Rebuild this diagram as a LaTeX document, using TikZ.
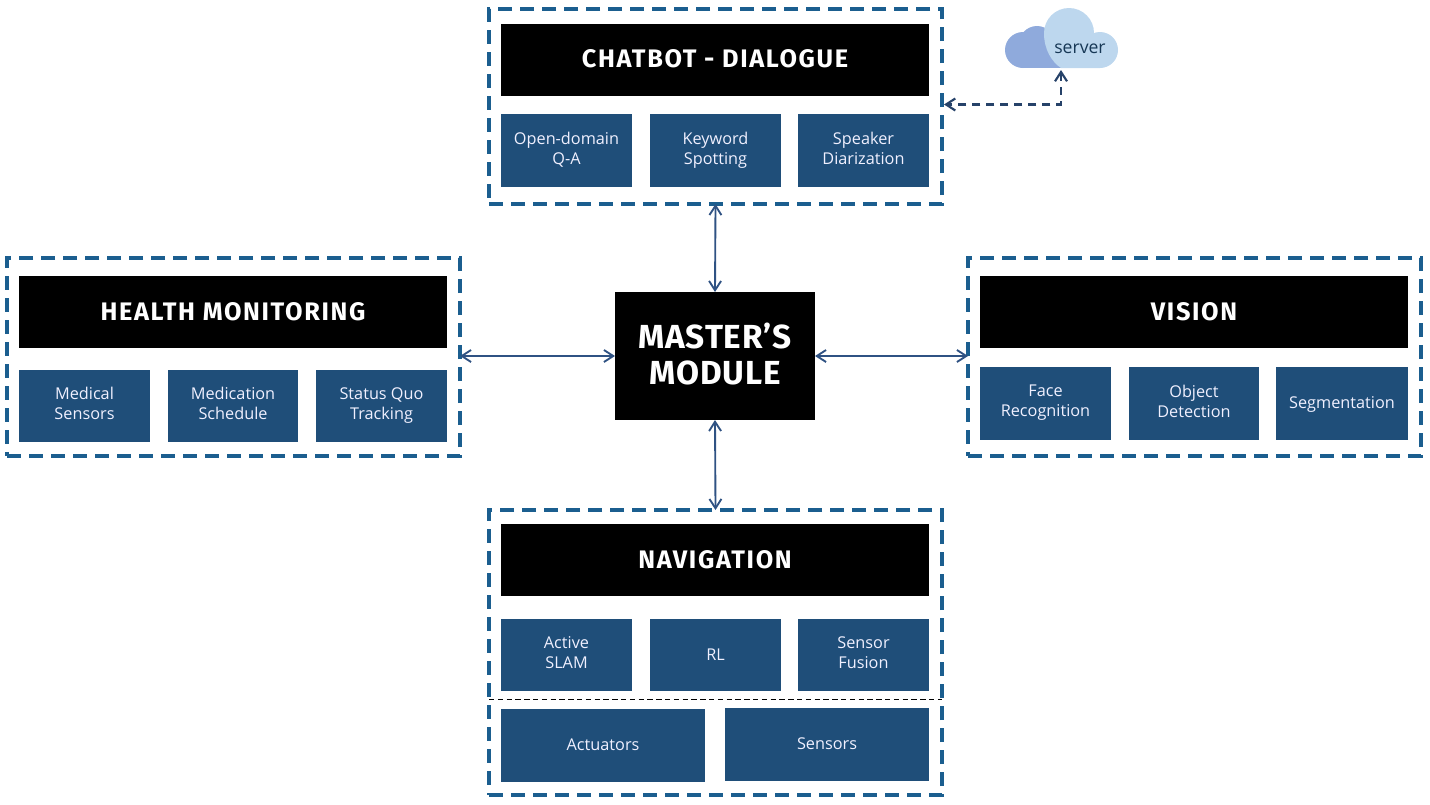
\documentclass[tikz,border=0pt]{standalone}
\usepackage{fontspec}
\setmainfont{Open Sans}
\newfontfamily\headfont[LetterSpace=6.5]{Fira Sans}
\newfontfamily\masterfont[LetterSpace=2.6]{Fira Sans}
\usetikzlibrary{arrows.meta}
\definecolor{blk}{HTML}{1F4E79}
\definecolor{dashc}{HTML}{1B5E8F}
\definecolor{arr}{HTML}{2F5283}
\definecolor{cldA}{HTML}{8FAADC}
\definecolor{cldB}{HTML}{BDD7EE}
\newcommand{\bx}[7][]{%
  \pgfmathsetmacro{\bw}{#5-#3}\pgfmathsetmacro{\bh}{#6-#4}%
  \pgfmathsetmacro{\cx}{(#3+#5)/2}\pgfmathsetmacro{\cy}{(#4+#6)/2}%
  \node[#1,minimum width=\bw*0.75pt,minimum height=\bh*0.75pt] (#2) at (\cx,\cy) {#7};}
\tikzset{
  group/.style={draw=dashc,line width=2.4pt,dash pattern=on 10.5pt off 6pt,inner sep=0pt,outer sep=0pt},
  head/.style={fill=black,text=white,font=\headfont\bfseries\fontsize{19}{22}\selectfont,text depth=1.5pt,inner sep=0pt,outer sep=0pt},
  master/.style={fill=black,text=white,font=\masterfont\bfseries\fontsize{25}{27}\selectfont,align=center,text depth=3.5pt,inner sep=0pt,outer sep=0pt},
  sub/.style={fill=blk,text=white!94!blue,font=\fontsize{12.2}{15}\selectfont,align=center,inner sep=0pt,outer sep=0pt,
    execute at begin node={\rule{0pt}{11.4pt}},execute at end node={\rule[-3.6pt]{0pt}{3.6pt}}},
  link/.style={draw=arr,line width=1.4pt,{Straight Barb[length=7pt,width=9pt]}-{Straight Barb[length=7pt,width=9pt]}},
  cloudlink/.style={draw=arr!80!black,line width=1.6pt,dash pattern=on 6pt off 4.5pt,{Straight Barb[length=7pt,width=9pt]}-{Straight Barb[length=7pt,width=9pt]}}
}
\begin{document}
\begin{tikzpicture}[x=0.75pt,y=-0.75pt]
\useasboundingbox (0,0) rectangle (1430,804);
% groups
\bx[group]{gchat}{489}{9}{942}{204}{}
\bx[group]{ghealth}{7}{258}{460}{456}{}
\bx[group]{gvision}{968}{258}{1421}{456}{}
\bx[group]{gnav}{489}{510}{942}{795}{}
% headers
\bx[head]{hchat}{501}{24}{929}{96}{CHATBOT - DIALOGUE}
\bx[head]{hhealth}{19}{276}{447}{348}{HEALTH MONITORING}
\bx[head]{hvision}{980}{276}{1408}{348}{VISION}
\bx[head]{hnav}{501}{524}{929}{596}{NAVIGATION}
\bx[master]{mm}{615}{292}{815}{420}{MASTER’S\\MODULE}
% chatbot subs
\bx[sub]{c1}{501}{114}{632}{187}{Open-domain\\Q-A}
\bx[sub]{c2}{650}{114}{781}{187}{Keyword\\Spotting}
\bx[sub]{c3}{798}{114}{929}{187}{Speaker\\Diarization}
% health subs
\bx[sub]{h1}{19}{370}{150}{442}{Medical\\Sensors}
\bx[sub]{h2}{168}{370}{298}{442}{Medication\\Schedule}
\bx[sub]{h3}{316}{370}{447}{442}{Status Quo\\Tracking}
% vision subs
\bx[sub]{v1}{980}{367}{1111}{440}{Face\\Recognition}
\bx[sub]{v2}{1129}{367}{1259}{440}{Object\\Detection}
\bx[sub]{v3}{1276}{367}{1408}{440}{Segmentation}
% nav subs
\bx[sub]{n1}{501}{619}{632}{691}{Active\\SLAM}
\bx[sub]{n2}{650}{619}{781}{691}{RL}
\bx[sub]{n3}{798}{619}{929}{691}{Sensor\\Fusion}
\bx[sub]{n4}{501}{709}{705}{782}{Actuators}
\bx[sub]{n5}{725}{708}{929}{781}{Sensors}
% divider
\coordinate (dl) at (489,699);
\coordinate (dr) at (942,699);
\draw[black,line width=0.7pt,dash pattern=on 4pt off 2.6pt] (dl) -- (dr);
% cloud
\fill[cldA] (1023,50) circle (18);
\fill[cldA] (1037,44) circle (18);
\fill[cldA] (1023,50) rectangle (1064,68);
\fill[cldB] (1069,33) circle (25);
\fill[cldB] (1100,50) circle (18);
\fill[cldB] (1044,33) .. controls (1044,50) and (1052,62) .. (1061,68) -- (1100,68) -- (1100,33) -- cycle;
\node[inner sep=0pt,text=blk!70!black,font=\fontsize{13.2}{15}\selectfont] (srv) at (1080,49) {server};
% connectors
\coordinate (srvport) at (1061,70);
\coordinate (chatport) at (944,104.5);
\draw[link] (gchat.south) -- (mm.north);
\draw[link] (ghealth.east |- mm.west) -- (mm.west);
\draw[link] (mm.east) -- (gvision.west |- mm.east);
\draw[link] (mm.south) -- (gnav.north);
\draw[cloudlink] (srvport) |- (chatport);
\end{tikzpicture}
\end{document}
